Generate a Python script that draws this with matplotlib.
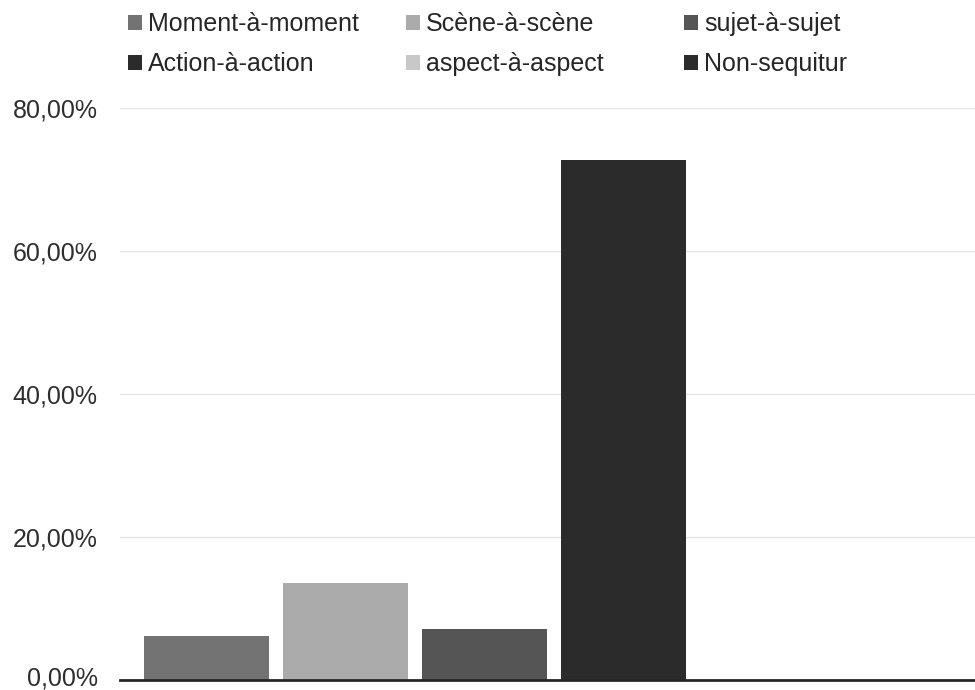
import matplotlib
matplotlib.use("Agg")
import matplotlib.pyplot as plt
from matplotlib.patches import Patch
from matplotlib.ticker import FuncFormatter
from matplotlib.transforms import ScaledTranslation

plt.rcParams["font.family"] = ["Liberation Sans", "DejaVu Sans"]

# series (one category, six series)
series_names = [
    "Moment-à-moment",
    "Scène-à-scène",
    "sujet-à-sujet",
    "Action-à-action",
    "aspect-à-aspect",
    "Non-sequitur",
]
series_values = [6.1, 13.6, 7.1, 72.7, 0.0, 0.0]
series_colors = ["#737373", "#ababab", "#555555", "#2b2b2b", "#c8c8c8", "#2b2b2b"]
y_ticks = [0, 20, 40, 60, 80]

fig = plt.figure(figsize=(9.75, 6.9), dpi=100)
ax = fig.add_axes([120 / 975, 10 / 690, 855 / 975, (680 - 108) / 690])

positions = list(range(len(series_values)))
ax.bar(positions, series_values, width=0.9, color=series_colors, zorder=3)

ax.set_ylim(0, 80)
ax.set_xlim(-0.62, 5.53)
ax.set_yticks(y_ticks)
ax.yaxis.set_major_formatter(FuncFormatter(lambda v, _: f"{v:.2f}%".replace(".", ",")))
ax.set_xticks([])
ax.tick_params(axis="y", length=0, pad=16, labelsize=18, labelcolor="#2e2e2e")
ax.grid(axis="y", color="#e6e6e6", linewidth=1, zorder=0)
for side in ["top", "right", "left"]:
    ax.spines[side].set_visible(False)
ax.spines["bottom"].set_color("#262626")
ax.spines["bottom"].set_linewidth(2)
ax.spines["bottom"].set_zorder(4)

# nudge the 0 label up a little so its comma stays inside the picture
fig.canvas.draw()
zero_label = ax.get_yticklabels()[0]
zero_label.set_transform(zero_label.get_transform() + ScaledTranslation(0, 4 / 100, fig.dpi_scale_trans))

# legend: three columns of two rows, row-major like the original
col_x = [128, 406, 684]
for col in range(3):
    handles = []
    for row in range(2):
        i = row * 3 + col
        handles.append(Patch(facecolor=series_colors[i], label=series_names[i]))
    fig.legend(
        handles=handles,
        loc="upper left",
        bbox_to_anchor=(col_x[col] / 975, 1 - 12 / 690),
        frameon=False,
        fontsize=18,
        handlelength=0.56,
        handleheight=0.56,
        handletextpad=0.24,
        labelspacing=0.65,
        borderpad=0,
        borderaxespad=0,
        labelcolor="#262626",
    )

fig.savefig("out.png", dpi=100)
